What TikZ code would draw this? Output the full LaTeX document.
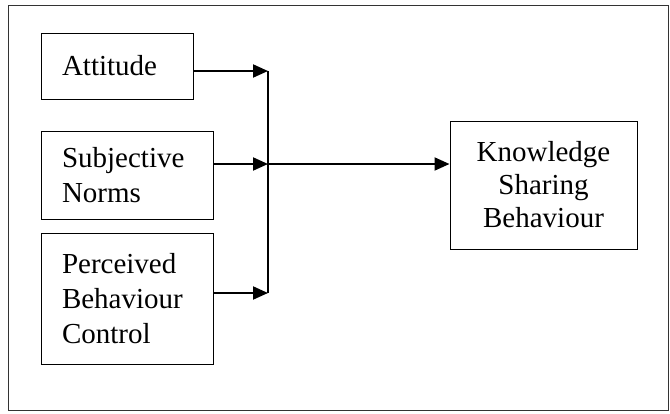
\documentclass[tikz,border=0pt]{standalone}
\usepackage{fontspec}
\setmainfont{Liberation Serif}
\usetikzlibrary{arrows.meta,positioning}

\begin{document}
\begin{tikzpicture}[x=1pt,y=-1pt]
    \tikzstyle{factor}=[draw, line width=1pt, inner xsep=21pt, align=left,
      font=\fontsize{29}{35}\selectfont]
    \tikzstyle{flow}=[line width=2pt, -{Triangle[length=15pt,width=13pt]}]
    \useasboundingbox (0,0) rectangle (670,413);
    \draw[line width=0.8pt, black!80] (8,5) rectangle (668,410);
    \node[factor, text width=110pt, minimum height=66pt] (att) at (117,66) {Attitude};
    \node[factor, text width=130pt, minimum height=88pt] (norms) at (127,175) {Subjective\\Norms};
    \node[factor, text width=130pt, minimum height=131pt] (pbc) at (127,298.5) {Perceived\\Behaviour\\Control};
    \node[factor, align=center, inner xsep=4pt, minimum width=187pt, minimum height=128pt,
      font=\fontsize{29}{33}\selectfont] (ksb) at (543.5,185) {Knowledge\\Sharing\\Behaviour};
    \coordinate (jatt) at (268,71);
    \coordinate (jnorms) at (268,164);
    \coordinate (jpbc) at (268,293);
    \draw[flow] (att.east |- jatt) -- (jatt);
    \draw[flow] (norms.east |- jnorms) -- (jnorms);
    \draw[flow] (pbc.east |- jpbc) -- (jpbc);
    \draw[line width=2pt] (jatt) -- (jpbc);
    \draw[flow] (jnorms) -- (ksb.west |- jnorms);
\end{tikzpicture}
\end{document}
